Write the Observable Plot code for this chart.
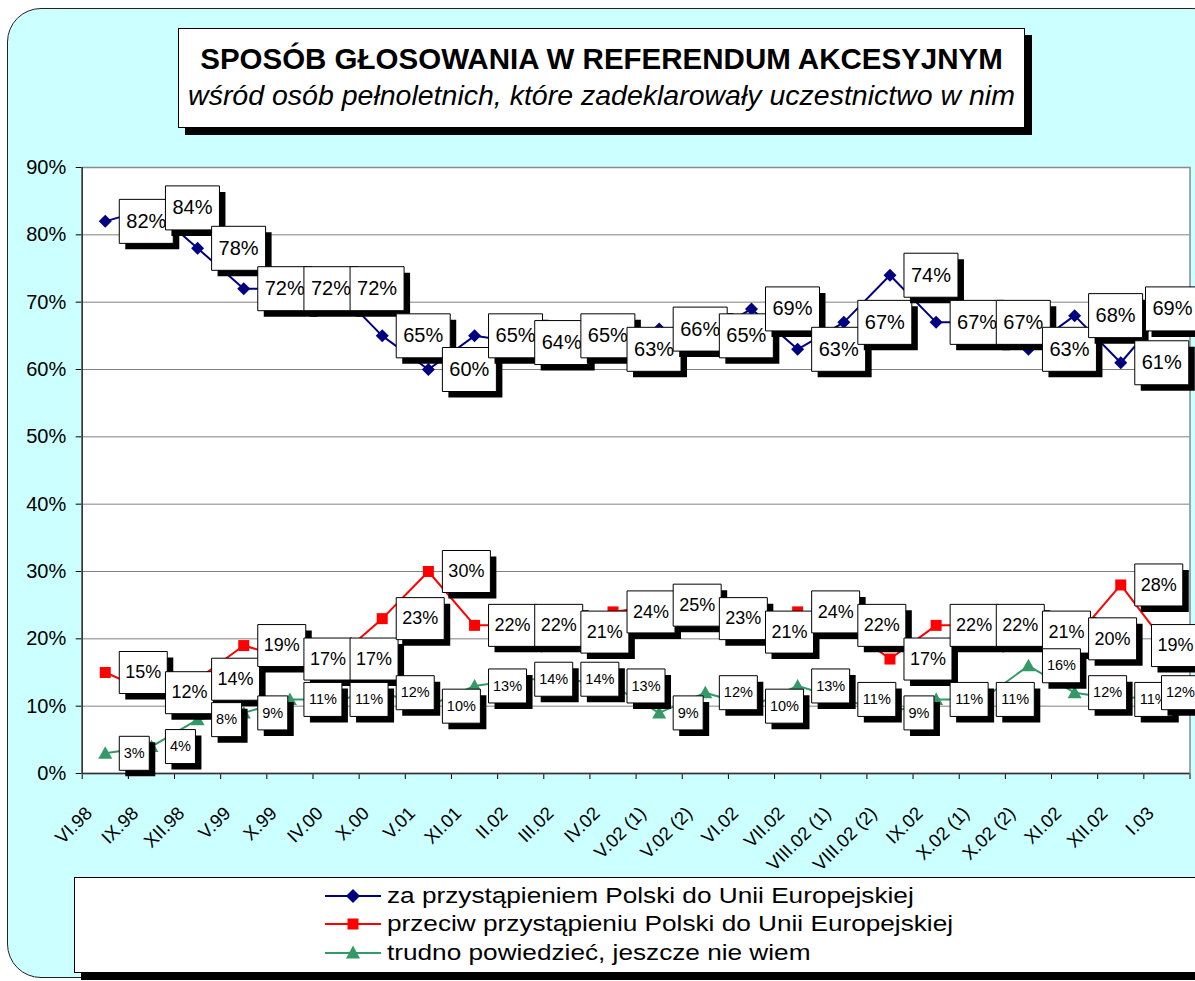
<!DOCTYPE html>
<html>
<head>
<meta charset="utf-8">
<script src="https://cdn.jsdelivr.net/npm/d3@7"></script>
<script src="https://cdn.jsdelivr.net/npm/@observablehq/plot@0.6"></script>
<style>
  body { margin: 0; background: #fff; font-family: "Liberation Sans", Arial, sans-serif; }
  #wrap { position: relative; width: 1195px; height: 981px; overflow: hidden; background: #fff; }
  #bg { position: absolute; left: 7px; top: 8px; width: 1220px; height: 970px; box-sizing: border-box;
        background: #CCFFFF; border: 1.5px solid #222; border-radius: 34px; }
  #chart { position: absolute; left: 0; top: 0; }
  #title { position: absolute; left: 178px; top: 28px; width: 847px; height: 100px; box-sizing: border-box;
           background: #fff; border: 1px solid #000; box-shadow: 7px 7px 0 #000; }
  #title .t1 { position: absolute; left: 0; right: 0; top: 12px; line-height: 36px; text-align: center;
               font-weight: bold; font-size: 29.5px; color: #000; white-space: nowrap; }
  #title .t2 { position: absolute; left: 0; right: 0; top: 48px; line-height: 36px; text-align: center;
               font-style: italic; font-size: 28.5px; color: #000; white-space: nowrap; }
  #legend { position: absolute; left: 74px; top: 877px; width: 1140px; height: 96px; box-sizing: border-box;
            background: #fff; border: 1px solid #000; box-shadow: 7px 7px 0 #000; }
  .lrow { position: absolute; left: 250px; height: 28px; display: flex; align-items: center; white-space: nowrap; }
  .lrow span { font-size: 22px; color: #000; display: inline-block; transform: scaleX(1.19); transform-origin: left center; margin-left: 6px; }
</style>
</head>
<body>
<div id="wrap">
  <div id="bg"></div>
  <div id="chart"></div>
  <div id="title">
    <div class="t1">SPOSÓB GŁOSOWANIA W REFERENDUM AKCESYJNYM</div>
    <div class="t2">wśród osób pełnoletnich, które zadeklarowały uczestnictwo w nim</div>
  </div>
  <div id="legend"></div>
</div>
<script>
// ---- data ----
const categories = ["VI.98","IX.98","XII.98","V.99","X.99","IV.00","X.00","V.01","XI.01","II.02","III.02","IV.02",
  "V.02 (1)","V.02 (2)","VI.02","VII.02","VIII.02 (1)","VIII.02 (2)","IX.02","X.02 (1)","X.02 (2)","XI.02","XII.02","I.03"];
const za      = [82,84,78,72,72,72,65,60,65,64,65,63,66,65,69,63,67,74,67,67,63,68,61,69];
const przeciw = [15,12,14,19,17,17,23,30,22,22,21,24,25,23,21,24,22,17,22,22,21,20,28,19];
const trudno  = [3,4,8,9,11,11,12,10,13,14,14,13,9,12,10,13,11,9,11,11,16,12,11,12];
const yTicks  = [0,10,20,30,40,50,60,70,80,90];
const seriesNames = [
  "za przystąpieniem Polski do Unii Europejskiej",
  "przeciw przystąpieniu Polski do Unii Europejskiej",
  "trudno powiedzieć, jeszcze nie wiem"
];
const seriesColors = ["#000080", "#FF0000", "#339966"];

// ---- layout ----
const W = 1195, H = 981, ML = 81.7, MR = 5.5, MT = 167, MB = 208;
const xPix = d3.scaleLinear().domain([0, categories.length]).range([ML, W - MR]); // mirrors Plot's x scale
const LIMIT = 1199; // labels are pushed left to stay inside the chart, as in the original

// ---- symbols ----
const diamondSym = {draw(c) { const r = 6.5; c.moveTo(0, -r); c.lineTo(r, 0); c.lineTo(0, r); c.lineTo(-r, 0); c.closePath(); }};
const squareSym  = {draw(c) { c.rect(-5.5, -5.5, 11, 11); }};
const triSym     = {draw(c) { c.moveTo(0, -7); c.lineTo(7, 5.5); c.lineTo(-7, 5.5); c.closePath(); }};
const boxSym = (off, w, h) => ({draw(c) { c.rect(off, -h / 2, w, h); }});

const rowsOf = vals => vals.map((v, i) => ({i, cat: categories[i], v, label: v + "%"}));
const series = [
  {data: rowsOf(za),      color: seriesColors[0], sym: diamondSym, w: () => 54, h: 44, fs: 20},
  {data: rowsOf(przeciw), color: seriesColors[1], sym: squareSym,  w: () => 48, h: 42, fs: 18},
  {data: rowsOf(trudno),  color: seriesColors[2], sym: triSym,     w: d => d.v < 10 ? 30 : 38, h: 34, fs: 14.5}
];

const X = d => d.i + 0.5;
const OFF = 14;

const marks = [
  Plot.frame({fill: "white"}),
  Plot.ruleY(yTicks.filter(v => v > 0), {stroke: "#808080", strokeWidth: 1}),
  Plot.frame({stroke: "#8a8a8a", strokeWidth: 1.5}),
  Plot.ruleX([0], {stroke: "#333", strokeWidth: 1.5}),
  Plot.ruleY([0], {stroke: "#333", strokeWidth: 1.5}),
];
for (const s of series) {
  marks.push(Plot.line(s.data, {x: X, y: "v", stroke: s.color, strokeWidth: 2}));
  marks.push(Plot.dot(s.data, {x: X, y: "v", symbol: s.sym, fill: s.color, stroke: "none"}));
}
for (const s of series) {
  for (const d of s.data) {
    const w = s.w(d);
    const off = Math.min(OFF, LIMIT - xPix(X(d)) - w);
    marks.push(Plot.dot([d], {x: X, y: "v", symbol: boxSym(off, w, s.h), fill: "black", stroke: "none", dx: 6, dy: 6}));
    marks.push(Plot.dot([d], {x: X, y: "v", symbol: boxSym(off, w, s.h), fill: "white", stroke: "black", strokeWidth: 1}));
    marks.push(Plot.text([d], {x: X, y: "v", text: "label", dx: off + w / 2, fontSize: s.fs, fill: "black"}));
  }
}
// category labels
marks.push(Plot.text(categories, {x: (d, i) => i + 0.5, frameAnchor: "bottom", text: d => d, rotate: -45,
  textAnchor: "end", dx: -12, dy: 41, fontSize: 18.5, fill: "black"}));

const chart = Plot.plot({
  width: W,
  height: H,
  marginLeft: ML,
  marginRight: MR,
  marginTop: MT,
  marginBottom: MB,
  style: {fontFamily: "'Liberation Sans', Arial, sans-serif", fontSize: "20px", background: "transparent", color: "#000", overflow: "visible"},
  x: {type: "linear", domain: [0, categories.length], ticks: categories.length, tickFormat: () => "", tickSize: 6, label: null},
  y: {domain: [0, 90], ticks: yTicks.length - 1, tickFormat: d => d + "%", tickSize: 6, tickPadding: 10, label: null},
  marks
});
document.getElementById("chart").appendChild(chart);

// legend
const legend = document.getElementById("legend");
const shapes = [
  '<path d="M28,7 L35,14 L28,21 L21,14 Z" fill="#000080"/>',
  '<rect x="22.5" y="8.5" width="11" height="11" fill="#FF0000"/>',
  '<path d="M28,6.5 L35,19.5 L21,19.5 Z" fill="#339966"/>'
];
const rowCenters = [18, 46, 75];
seriesNames.forEach((name, k) => {
  const row = document.createElement("div");
  row.className = "lrow";
  row.style.top = (rowCenters[k] - 14) + "px";
  row.innerHTML = `<svg width="56" height="28"><line x1="0" y1="14" x2="56" y2="14" stroke="${seriesColors[k]}" stroke-width="2"/>${shapes[k]}</svg><span>${name}</span>`;
  legend.appendChild(row);
});
</script>
</body>
</html>
